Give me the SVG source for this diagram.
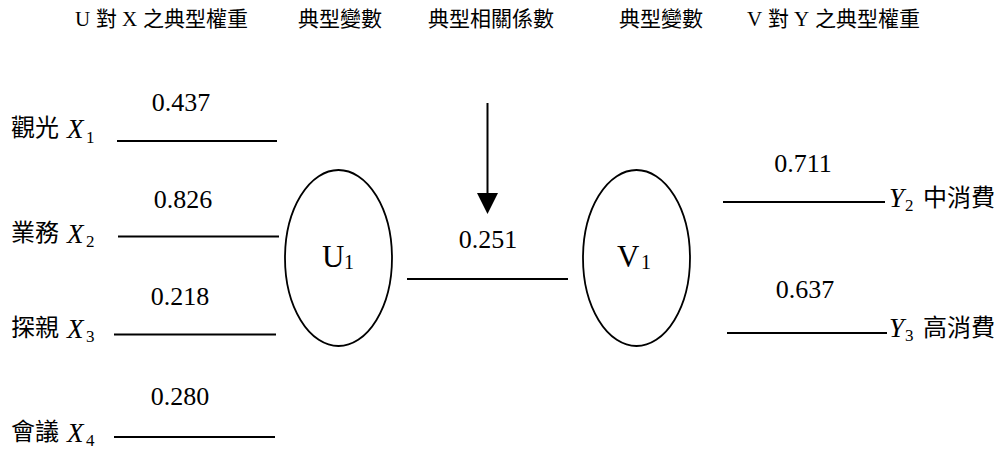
<svg xmlns="http://www.w3.org/2000/svg" width="1002" height="449" viewBox="0 0 1002 449">
<style>
.hd{font-family:"Noto Sans CJK TC","Noto Sans CJK SC",sans-serif;font-size:21px;fill:#000}
.hdl{font-family:"Liberation Serif","Times New Roman",serif;font-size:21px;fill:#000}
.cjk{font-family:"Noto Sans CJK TC","Noto Sans CJK SC",sans-serif;font-size:24px;fill:#000}
.it{font-family:"Liberation Serif","Times New Roman",serif;font-style:italic;font-size:27px;fill:#000}
.sub{font-family:"Liberation Serif","Times New Roman",serif;font-size:17px;fill:#000}
.num{font-family:"Liberation Serif","Times New Roman",serif;font-size:26px;fill:#000;text-anchor:middle}
.nd{font-family:"Liberation Serif","Times New Roman",serif;font-size:31px;fill:#000}
.nds{font-family:"Liberation Serif","Times New Roman",serif;font-size:20px;fill:#000}
.ln{stroke:#000;stroke-width:2;fill:none}
.el{stroke:#000;stroke-width:1.8;fill:#fff}
</style>
<rect width="1002" height="449" fill="#fff"/>
<g id="headers">
<text y="26"><tspan class="hdl" x="75">U</tspan><tspan class="hd" x="96">對</tspan><tspan class="hdl" x="122">X</tspan><tspan class="hd" x="143">之典型權重</tspan></text>
<text class="hd" x="298" y="26">典型變數</text>
<text class="hd" x="428" y="26">典型相關係數</text>
<text class="hd" x="619" y="26">典型變數</text>
<text y="26"><tspan class="hdl" x="747">V</tspan><tspan class="hd" x="768">對</tspan><tspan class="hdl" x="794">Y</tspan><tspan class="hd" x="815">之典型權重</tspan></text>
</g>
<g id="connectors">
<line class="ln" x1="117" y1="141" x2="277" y2="141"/>
<line class="ln" x1="118" y1="236.5" x2="279" y2="236.5"/>
<line class="ln" x1="114" y1="334.5" x2="276" y2="334.5"/>
<line class="ln" x1="114" y1="437" x2="275" y2="437"/>
<line class="ln" x1="407" y1="279" x2="568" y2="279"/>
<line class="ln" x1="723" y1="202" x2="885" y2="202"/>
<line class="ln" x1="727" y1="333" x2="887" y2="333"/>
<line class="ln" x1="487.5" y1="103" x2="487.5" y2="195"/>
<polygon points="477,193 498,193 487.5,214" fill="#000"/>
</g>
<g id="x1">
<text class="cjk" x="11" y="136">觀光</text>
<text class="it" x="67" y="138">X</text><text class="sub" x="86" y="143">1</text>
<text class="num" x="181" y="111">0.437</text>
</g>
<g id="x2">
<text class="cjk" x="11" y="241">業務</text>
<text class="it" x="67" y="243">X</text><text class="sub" x="86" y="247">2</text>
<text class="num" x="183" y="208">0.826</text>
</g>
<g id="x3">
<text class="cjk" x="11" y="336">探親</text>
<text class="it" x="67" y="338">X</text><text class="sub" x="86" y="342">3</text>
<text class="num" x="180" y="305">0.218</text>
</g>
<g id="x4">
<text class="cjk" x="11" y="440">會議</text>
<text class="it" x="67" y="442">X</text><text class="sub" x="86" y="446">4</text>
<text class="num" x="180" y="405">0.280</text>
</g>
<g id="u1">
<ellipse class="el" cx="338.5" cy="258" rx="53.5" ry="88"/>
<text class="nd" x="322" y="267">U</text><text class="nds" x="344" y="269">1</text>
</g>
<g id="corr">
<text class="num" x="488" y="248">0.251</text>
</g>
<g id="v1">
<ellipse class="el" cx="636.5" cy="258" rx="53.5" ry="88"/>
<text class="nd" x="617" y="267">V</text><text class="nds" x="641" y="269">1</text>
</g>
<g id="y2">
<text class="num" x="803" y="172">0.711</text>
<text class="it" x="889" y="207">Y</text><text class="sub" x="905" y="211">2</text>
<text class="cjk" x="923" y="206">中消費</text>
</g>
<g id="y3">
<text class="num" x="805" y="298">0.637</text>
<text class="it" x="889" y="337">Y</text><text class="sub" x="905" y="341">3</text>
<text class="cjk" x="923" y="336">高消費</text>
</g>
</svg>
